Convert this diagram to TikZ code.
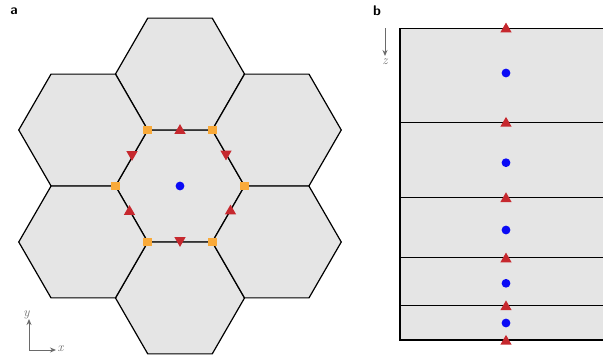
\documentclass[tikz,border=0pt]{standalone}
\usetikzlibrary{shapes.geometric,arrows.meta}
\definecolor{cellgray}{HTML}{E5E5E5}
\definecolor{trired}{HTML}{C6282E}
\definecolor{sqorange}{HTML}{F9AA3A}
\definecolor{dotblue}{HTML}{0A0AF5}
\definecolor{axgray}{HTML}{6A6A6A}
\begin{document}
\begin{tikzpicture}[x=1pt,y=-1pt,
  hexcell/.style={fill=cellgray,draw=black,line width=1.2pt,line join=miter},
  triup/.style={regular polygon,regular polygon sides=3,fill=trired,inner sep=0pt,minimum size=13pt,yshift=-1.6pt},
  tridown/.style={regular polygon,regular polygon sides=3,shape border rotate=180,fill=trired,inner sep=0pt,minimum size=13pt,yshift=1.6pt},
  sqmark/.style={rectangle,fill=sqorange,inner sep=0pt,minimum size=8.6pt},
  dotmark/.style={circle,fill=dotblue,inner sep=0pt,minimum size=8.8pt},
  axarrow/.style={draw=axgray,line width=1pt,-{Stealth[length=6pt,width=5pt]}},
  axlabel/.style={text=axgray,font=\itshape\fontsize{13}{13}\selectfont,inner sep=0pt},
  panel/.style={font=\sffamily\bfseries\fontsize{14}{14}\selectfont,inner sep=0pt}]
\useasboundingbox (0,0) rectangle (603,356);
% hexagons (flat top), R = 64.5
\foreach \cx/\cy in {180/186,180/74,180/298,83.25/130,276.75/130,83.25/242,276.75/242}{
  \draw[hexcell] (\cx+64.5,\cy) -- (\cx+32.25,\cy+55.86) -- (\cx-32.25,\cy+55.86)
     -- (\cx-64.5,\cy) -- (\cx-32.25,\cy-55.86) -- (\cx+32.25,\cy-55.86) -- cycle;
}
% markers on central hexagon
\node[sqmark] (s1) at (147.75,130.14) {};
\node[sqmark] (s2) at (212.25,130.14) {};
\node[sqmark] (s3) at (244.5,186) {};
\node[sqmark] (s4) at (212.25,241.86) {};
\node[sqmark] (s5) at (147.75,241.86) {};
\node[sqmark] (s6) at (115.5,186) {};
\node[triup] (t1) at (180,129) {};
\node[tridown] (t2) at (180,242) {};
\node[tridown] (t3) at (132,156) {};
\node[tridown] (t4) at (226,155.5) {};
\node[triup] (t5) at (129.5,210) {};
\node[triup] (t6) at (230.5,209.5) {};
\node[dotmark] (c0) at (180,186) {};
% axes panel a
\coordinate (o) at (29,350);
\coordinate (ya) at (29,319);
\coordinate (xa) at (56,350);
\draw[axarrow] (o) -- (ya);
\draw[axarrow] (o) -- (xa);
\node[axlabel] (ylab) at (26.5,315) {y};
\node[axlabel] (xlab) at (60.5,348.5) {x};
% panel b
\fill[cellgray] (400,28.3) rectangle (603,340);
\draw[black,line width=1.2pt] (603,28.3) -- (400,28.3) -- (400,340) -- (603,340);
\foreach \yy in {122.3,197.6,257.8,305.8}{
  \draw[black,line width=1.2pt] (400,\yy) -- (603,\yy);
}
\node[triup] (b1) at (506,27.5) {};
\node[triup] (b2) at (506,121.8) {};
\node[triup] (b3) at (506,197.2) {};
\node[triup] (b4) at (506,257.5) {};
\node[triup] (b5) at (506,305.3) {};
\node[triup] (b6) at (506,339.8) {};
\node[dotmark] (d1) at (506,73) {};
\node[dotmark] (d2) at (506,162.7) {};
\node[dotmark] (d3) at (506,230) {};
\node[dotmark] (d4) at (506,283.3) {};
\node[dotmark] (d5) at (506,323) {};
% z axis
\coordinate (zs) at (385,28);
\coordinate (ze) at (385,56);
\draw[axarrow] (zs) -- (ze);
\node[axlabel] (zlab) at (385,62) {z};
% panel labels
\node[panel] (pa) at (14,11) {a};
\node[panel] (pb) at (377,11) {b};
\end{tikzpicture}
\end{document}
